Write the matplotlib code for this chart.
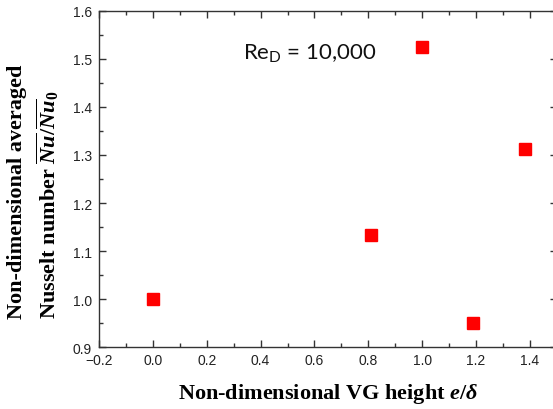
import matplotlib
matplotlib.use('Agg')
from matplotlib import pyplot as plt
from matplotlib.ticker import MultipleLocator

plt.rcParams['mathtext.fontset'] = 'custom'
plt.rcParams['mathtext.rm'] = 'Liberation Serif:bold'
plt.rcParams['mathtext.it'] = 'Liberation Serif:italic:bold'
plt.rcParams['mathtext.bf'] = 'Liberation Serif:bold'

# VG height e/delta and normalised averaged Nusselt number
vg_height = [0.0, 0.81, 1.0, 1.19, 1.38]
nu_ratio = [1.0, 1.134, 1.524, 0.951, 1.312]

x_ticks = [-0.2, 0.0, 0.2, 0.4, 0.6, 0.8, 1.0, 1.2, 1.4]
y_ticks = [0.9, 1.0, 1.1, 1.2, 1.3, 1.4, 1.5, 1.6]


def nusseltPlot():
    fig = plt.figure(figsize=(5.53, 4.10), dpi=100)
    ax = fig.add_axes([0.179, 0.151, 0.828, 0.820])

    ax.plot(vg_height, nu_ratio, linestyle='none', marker='s', markersize=8.5,
            color='#ff0000', markeredgecolor='#ff0000')

    ax.set_xlim(-0.2, 1.5)
    ax.set_ylim(0.9, 1.6)
    ax.set_xticks(x_ticks)
    ax.set_yticks(y_ticks)
    ax.xaxis.set_minor_locator(MultipleLocator(0.1))
    ax.yaxis.set_minor_locator(MultipleLocator(0.05))
    ax.set_xticklabels(['\u22120.2'] + ['%.1f' % t for t in x_ticks[1:]])
    ax.set_yticklabels(['%.1f' % t for t in y_ticks])

    ax.tick_params(which='both', direction='in', top=True, right=True,
                   color='#333333', width=1.0, labelsize=10, labelcolor='#222222')
    ax.tick_params(which='major', length=5)
    ax.tick_params(axis='x', which='major', pad=4)
    ax.tick_params(axis='y', which='major', pad=5)
    ax.tick_params(which='minor', length=3)
    for lbl in ax.get_xticklabels() + ax.get_yticklabels():
        lbl.set_family('Liberation Sans')
    for sp in ax.spines.values():
        sp.set_color('#333333')
        sp.set_linewidth(1.0)

    ax.set_xlabel(r'Non-dimensional VG height $e/\delta$', fontsize=16,
                  fontweight='bold', family='Liberation Serif', labelpad=10)
    ax.set_ylabel('Non-dimensional averaged\n' + r'Nusselt number $\overline{Nu}/\overline{Nu}_0$',
                  fontsize=16, fontweight='bold', family='Liberation Serif',
                  linespacing=1.35)
    ax.yaxis.label.set_multialignment('left')
    ax.yaxis.set_label_coords(-0.083, 0.464)

    ax.text(0.335, 1.515, r'Re$_\mathregular{D}$ = 10,000', fontsize=16,
            family='Lato', va='center', ha='left', color='#111111')

    fig.savefig('out.png', dpi=100)


nusseltPlot()
